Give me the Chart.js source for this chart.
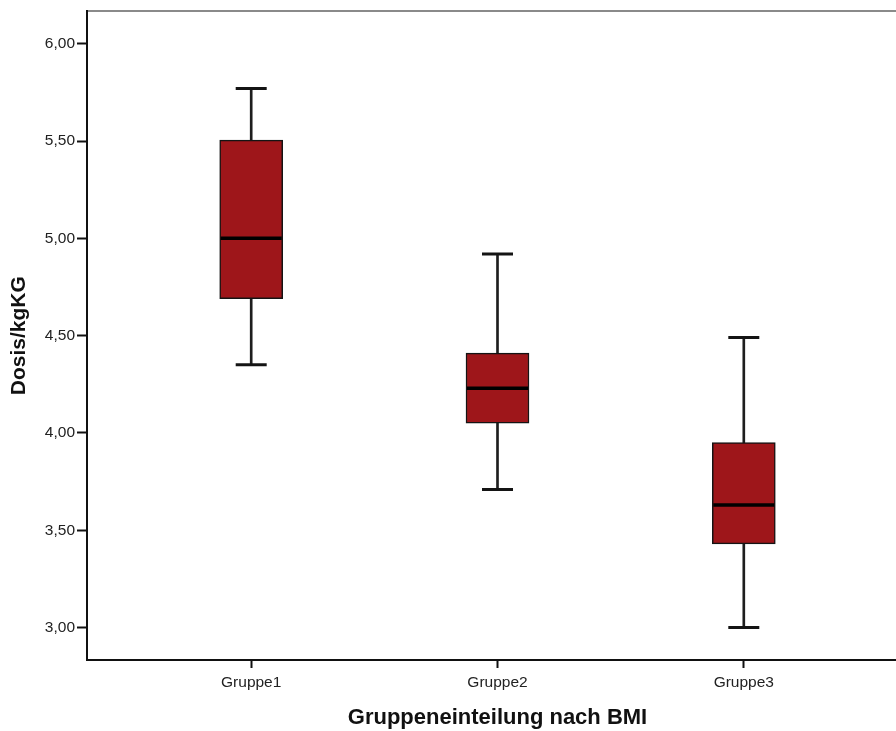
<!DOCTYPE html>
<html>
<head>
<meta charset="utf-8">
<script src="https://cdn.jsdelivr.net/npm/chart.js@4/dist/chart.umd.min.js"></script>
<style>
  html, body { margin: 0; padding: 0; background: #ffffff; overflow: hidden; }
  #wrap { width: 908px; height: 731px; }
</style>
</head>
<body>
<div id="wrap"><canvas id="c" width="908" height="731"></canvas></div>
<script>
// ---- data ----
const categories = ['Gruppe1', 'Gruppe2', 'Gruppe3'];
const positions = [1, 2, 3];
const whiskerLow = [4.35, 3.71, 3.00];
const quartile1 = [4.69, 4.05, 3.43];
const medians = [5.00, 4.23, 3.63];
const quartile3 = [5.505, 4.41, 3.95];
const whiskerHigh = [5.77, 4.92, 4.49];
const yTickValues = [3.00, 3.50, 4.00, 4.50, 5.00, 5.50, 6.00];
const xTitle = 'Gruppeneinteilung nach BMI';
const yTitle = 'Dosis/kgKG';

const FONT = "'Liberation Sans', Arial, Helvetica, sans-serif";

const pts = (arr) => positions.map((x, i) => ({ x: x, y: arr[i] }));
const ranges = (lo, hi) => positions.map((x, i) => ({ x: x, y: [lo[i], hi[i]] }));

new Chart(document.getElementById('c'), {
  type: 'bar',
  data: {
    datasets: [
      {
        type: 'bar', label: 'whisker', data: ranges(whiskerLow, whiskerHigh),
        backgroundColor: '#1e1e1e', borderWidth: 0, barThickness: 2,
        grouped: false, order: 5
      },
      {
        type: 'bar', label: 'box', data: ranges(quartile1, quartile3),
        backgroundColor: '#9e161a', borderColor: '#141414', borderWidth: 1.5,
        borderSkipped: false, barThickness: 63, grouped: false, order: 3
      },
      {
        type: 'line', label: 'low', data: pts(whiskerLow), showLine: false,
        pointStyle: 'line', pointRadius: 15.5, pointHoverRadius: 15.5,
        pointBorderWidth: 3, pointBorderColor: '#141414', order: 1
      },
      {
        type: 'line', label: 'high', data: pts(whiskerHigh), showLine: false,
        pointStyle: 'line', pointRadius: 15.5, pointHoverRadius: 15.5,
        pointBorderWidth: 3, pointBorderColor: '#141414', order: 1
      },
      {
        type: 'line', label: 'median', data: pts(medians), showLine: false,
        pointStyle: 'line', pointRadius: 30.5, pointHoverRadius: 30.5,
        pointBorderWidth: 3.5, pointBorderColor: '#000000', order: 0
      }
    ]
  },
  options: {
    responsive: false,
    animation: false,
    devicePixelRatio: 1,
    layout: { padding: 0, autoPadding: false },
    plugins: { legend: { display: false }, tooltip: { enabled: false } },
    scales: {
      x: {
        type: 'linear', position: 'bottom',
        min: 1 / 3, max: 11 / 3, offset: false,
        afterBuildTicks: (s) => { s.ticks = positions.map(v => ({ value: v })); },
        afterFit: (s) => { s.height = 71; },
        ticks: {
          callback: (v) => { const i = positions.indexOf(v); return i >= 0 ? categories[i] : ''; },
          font: { family: FONT, size: 15.5 }, color: '#222', padding: 5,
          autoSkip: false, maxRotation: 0
        },
        grid: {
          display: true, drawOnChartArea: false, drawTicks: true, offset: false,
          tickLength: 8, tickColor: '#111', tickWidth: 2
        },
        border: { display: true, color: '#111', width: 2 },
        title: {
          display: true, text: xTitle, color: '#111',
          font: { family: FONT, size: 22, weight: 'bold', lineHeight: 1 },
          padding: { top: 0, bottom: 2 }
        }
      },
      xTop: {
        type: 'linear', position: 'top', min: 0, max: 1,
        afterFit: (s) => { s.height = 11; },
        ticks: { display: false },
        grid: { display: false, drawTicks: false },
        border: { display: true, color: '#8a8a8a', width: 2 }
      },
      y: {
        type: 'linear', position: 'left',
        min: 2.8333, max: 6.1667,
        afterBuildTicks: (s) => { s.ticks = yTickValues.map(v => ({ value: v })); },
        afterFit: (s) => { s.width = 87; },
        ticks: {
          callback: (v) => Number(v).toFixed(2).replace('.', ','),
          font: { family: FONT, size: 15.5 }, color: '#222', padding: 2
        },
        grid: {
          display: true, drawOnChartArea: false, drawTicks: true,
          tickLength: 10, tickColor: '#111', tickWidth: 2
        },
        border: { display: true, color: '#111', width: 2 },
        title: {
          display: true, text: yTitle, color: '#111',
          font: { family: FONT, size: 21, weight: 'bold', lineHeight: 1 },
          padding: { top: 9, bottom: 0 }
        }
      }
    }
  }
});
</script>
</body>
</html>
